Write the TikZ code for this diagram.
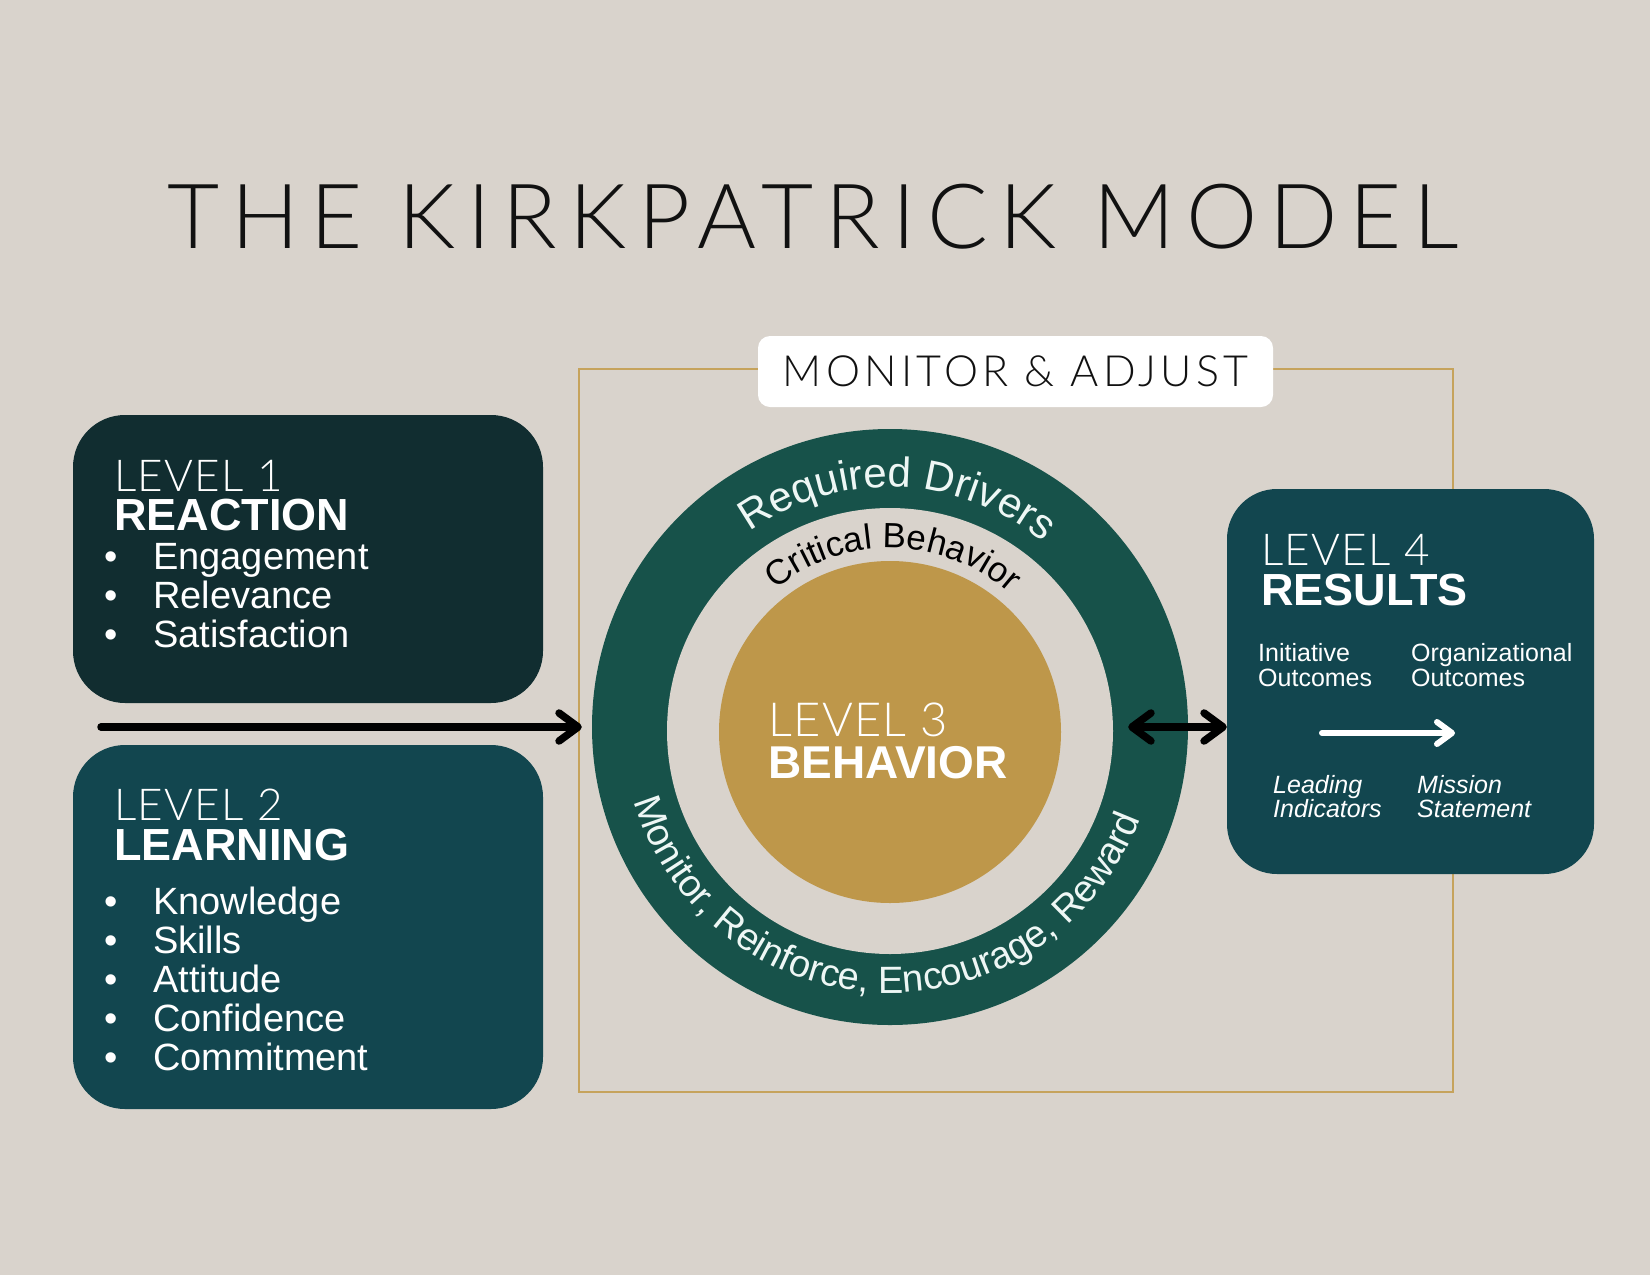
\documentclass[tikz,border=0pt]{standalone}
\usepackage{fontspec}
\setmainfont{Liberation Sans}
\newfontfamily\titlefont{Lato Light}[LetterSpace=13]
\newfontfamily\tagfont{Lato Light}[LetterSpace=10]
\newfontfamily\levelfont{Lato Light}[LetterSpace=3]
\usepackage{xcolor}
\usepackage{tikz}
\usetikzlibrary{arrows.meta, positioning, decorations.text}

\definecolor{sandbg}{HTML}{D9D3CC}
\definecolor{deepteal}{HTML}{112D30}
\definecolor{lvlteal}{HTML}{12464F}
\definecolor{ringgreen}{HTML}{17524A}
\definecolor{goldcore}{HTML}{BE974A}
\definecolor{goldline}{HTML}{C6A35C}
\definecolor{mint}{HTML}{EEF7F5}
\definecolor{inkblack}{HTML}{111111}

\begin{document}
\begin{tikzpicture}[
    x=1pt, y=1pt,
    lvlbox/.style={rectangle, rounded corners=52pt, minimum width=470pt, inner sep=0pt},
    tagbox/.style={rectangle, rounded corners=12pt, fill=white, minimum width=515pt, minimum height=71pt, inner sep=0pt, text=inkblack, font=\tagfont\fontsize{43}{43}\selectfont},
    disc/.style={circle, inner sep=0pt},
    hdr/.style={anchor=base west, inner sep=0pt, text=white, font=\levelfont\fontsize{44}{44}\selectfont},
    lvlname/.style={anchor=base west, inner sep=0pt, text=white, font=\bfseries\fontsize{45}{45}\selectfont},
    bul/.style={anchor=base west, inner sep=0pt, text=white, font=\fontsize{38}{38}\selectfont},
    note/.style={anchor=base west, inner sep=0pt, text=white, font=\fontsize{25}{25}\selectfont},
    noteit/.style={note, font=\itshape\fontsize{25}{25}\selectfont},
    arr/.style={line width=7.5pt, line cap=round, -{Straight Barb[length=19pt, width=28pt, round]}},
    arr2/.style={line width=7.5pt, line cap=round, {Straight Barb[length=19pt, width=28pt, round]}-{Straight Barb[length=19pt, width=28pt, round]}},
    arrw/.style={line width=6pt, line cap=round, white, -{Straight Barb[length=15pt, width=22pt, round]}},
]

% canvas
\useasboundingbox (0,0) rectangle (1650,-1275);
\fill[sandbg] (0,0) rectangle (1650,-1275);

\node[anchor=base west, inner sep=0pt, text=inkblack, font=\titlefont\fontsize{90}{90}\selectfont] (title) at (167,-248) {THE KIRKPATRICK MODEL};

% monitor frame and level 3 rings
\node[draw=goldline, line width=2.5pt, minimum width=874pt, minimum height=723pt, inner sep=0pt] (frame) at (1016,-730.5) {};
\node[tagbox] (mon) at (1015.5,-371.5) {MONITOR \& ADJUST};
\node[disc, fill=ringgreen, minimum size=596pt] (ring) at (890,-727) {};
\node[disc, fill=sandbg, minimum size=446pt] (hole) at (890,-731) {};
\node[disc, fill=goldcore, minimum size=342pt] (core) at (890,-732) {};

\path[decorate, decoration={text along path, text align=center, text color=mint,
    text={|\fontsize{42}{42}\selectfont|Required Drivers}}]
  (ring.center) ++(168:240pt) arc[start angle=168, end angle=8, radius=240pt];
\path[decorate, decoration={text along path, text align=center, text color=black,
    text={|\fontsize{35}{35}\selectfont|Critical Behavior}}]
  (ring.center) ++(169:179pt) arc[start angle=169, end angle=9, radius=179pt];
\path[decorate, decoration={text along path, text align=center, text color=mint,
    text={|\fontsize{38}{38}\selectfont|Monitor, Reinforce, Encourage, Reward}}]
  (ring.center) ++(178:266pt) arc[start angle=178, end angle=358, radius=266pt];

\node[hdr, font=\levelfont\fontsize{47}{47}\selectfont] (l3a) at (768,-736) {LEVEL 3};
\node[lvlname, font=\bfseries\fontsize{46}{46}\selectfont] (l3b) at ([yshift=-42pt]l3a.base west) {BEHAVIOR};

% level boxes
\node[lvlbox, fill=deepteal, minimum height=288pt] (lv1) at (308,-559) {};
\node[lvlbox, fill=lvlteal, minimum height=364pt] (lv2) at (308,-927) {};
\node[lvlbox, fill=lvlteal, minimum width=367pt, minimum height=385pt, rounded corners=50pt] (lv4) at (1410.5,-681.5) {};

\node[hdr] (l1a) at (114,-491) {LEVEL 1};
\node[lvlname] (l1b) at ([yshift=-39pt]l1a.base west) {REACTION};
\node[bul] (l1c) at (104,-569) {\makebox[49pt][l]{\textbullet}Engagement};
\node[bul] (l1d) at ([yshift=-39pt]l1c.base west) {\makebox[49pt][l]{\textbullet}Relevance};
\node[bul] (l1e) at ([yshift=-39pt]l1d.base west) {\makebox[49pt][l]{\textbullet}Satisfaction};

\node[hdr] (l2a) at (114,-820) {LEVEL 2};
\node[lvlname] (l2b) at ([yshift=-40pt]l2a.base west) {LEARNING};
\node[bul] (l2c) at (104,-914) {\makebox[49pt][l]{\textbullet}Knowledge};
\node[bul] (l2d) at ([yshift=-39pt]l2c.base west) {\makebox[49pt][l]{\textbullet}Skills};
\node[bul] (l2e) at ([yshift=-39pt]l2d.base west) {\makebox[49pt][l]{\textbullet}Attitude};
\node[bul] (l2f) at ([yshift=-39pt]l2e.base west) {\makebox[49pt][l]{\textbullet}Confidence};
\node[bul] (l2g) at ([yshift=-39pt]l2f.base west) {\makebox[49pt][l]{\textbullet}Commitment};

\node[hdr] (l4a) at (1261,-565) {LEVEL 4};
\node[lvlname] (l4b) at ([yshift=-40pt]l4a.base west) {RESULTS};
\node[note] (l4c) at (1258,-661) {Initiative};
\node[note] (l4d) at ([yshift=-25pt]l4c.base west) {Outcomes};
\node[note] (l4e) at (1411,-661) {Organizational};
\node[note] (l4f) at ([yshift=-25pt]l4e.base west) {Outcomes};
\node[noteit] (l4g) at (1273,-793) {Leading};
\node[noteit] (l4h) at ([yshift=-24pt]l4g.base west) {Indicators};
\node[noteit] (l4i) at (1417,-793) {Mission};
\node[noteit] (l4j) at ([yshift=-24pt]l4i.base west) {Statement};

% connectors
\coordinate (feed) at (101,-727);
\coordinate (leadL) at (1322,-733);
\coordinate (leadR) at (1455,-733);
\draw[arr] (feed) -- ([xshift=-10pt]ring.west);
\draw[arr2] ([xshift=-60pt]ring.east) -- (lv4.west |- ring.east);
\draw[arrw] (leadL) -- (leadR);

\end{tikzpicture}
\end{document}
